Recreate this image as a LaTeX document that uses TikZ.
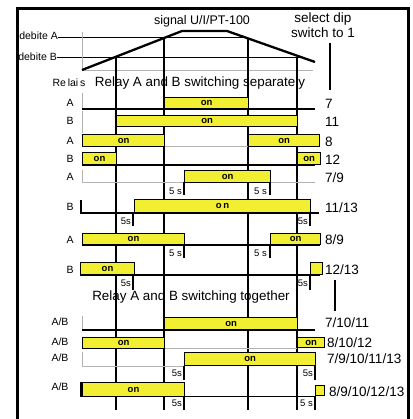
\documentclass[tikz,border=0pt]{standalone}
\usepackage{fontspec}
\setmainfont{Liberation Sans}
\usepackage{xcolor}
\usepackage{tikz}
\definecolor{relayyellow}{RGB}{242,238,50}

\begin{document}
\begin{tikzpicture}[x=1pt,y=-1pt,every node/.style={inner sep=0pt},
  bar/.style={draw,fill=relayyellow,line width=1.1pt,anchor=north west,font=\fontsize{9.5}{10}\selectfont\bfseries},
  base/.style={line width=2.3pt},
  offline/.style={black!30,line width=0.6pt},
  marker/.style={line width=1.3pt},
  tick/.style={line width=1.1pt},
  delay/.style={anchor=east,font=\fontsize{9.5}{10}\selectfont},
  rowlbl/.style={font=\fontsize{10.5}{11}\selectfont},
  code/.style={anchor=west,font=\fontsize{13.5}{14}\selectfont},
  head/.style={font=\fontsize{13.4}{15}\selectfont}]
  \useasboundingbox (0,0) rectangle (412,419);
  % frame
  \draw[line width=3pt] (17.5,419) -- (17.5,8.5) -- (408,8.5) -- (408,419);
  % signal
  \node[head,font=\fontsize{12.5}{13}\selectfont] (sig) at (202,21) {signal U/I/PT-100};
  \node[head,align=center,font=\fontsize{13.5}{15}\selectfont] (dip) at (323,25) {select dip\\switch to 1};
  \node[rowlbl,anchor=east] (debA) at (58,36) {debite A};
  \node[rowlbl,anchor=east] (debB) at (57,57) {debite B};
  \draw[line width=1pt] (debA.east |- 0,38) -- (248,38);
  \draw[line width=1pt] (debB.east |- 0,58) -- (300,58);
  \draw[offline] (82,32) -- (82,70) -- (313,70);
  \draw[line width=2.3pt] (82,70) -- (182,31) -- (227,31) -- (315,62);
  \foreach \x/\y in {116/58,164/38,248/38,297/58}
    \draw[marker] (\x,\y) -- (\x,410);
  \draw[marker] (330,43) -- (330,90);
  \draw[marker] (335,280) -- (335,311);

  % relays switching separately
  \node[rowlbl] (relais) at (69,83) {Re\,lai\,s};
  \node[head] (sep) at (200,83) {Relay A and B switching separately};

  \node[rowlbl] (a1) at (70,103) {A};
  \draw[offline] (82,93) -- (82,109);
  \draw[base] (82,109) -- (315,109);
  \node[bar,minimum width=84pt,minimum height=11pt] (a1on) at (164,97) {on};
  \node[code] (c7) at (325,104) {7};

  \node[rowlbl] (b1) at (70,121) {B};
  \draw[offline] (82,111) -- (82,133);
  \node[bar,minimum width=181pt,minimum height=11pt] (b1on) at (116,115) {on};
  \node[code] (c11) at (325,122) {11};

  \node[rowlbl] (a2) at (70,141) {A};
  \draw[offline] (164,146) -- (315,146);
  \node[bar,minimum width=82pt,minimum height=12pt] (a2on) at (82,134) {on};
  \node[bar,minimum width=71pt,minimum height=12pt] (a2on') at (248,134) {on};
  \node[code] (c8) at (325,142) {8};

  \node[rowlbl] (b2) at (70,159) {B};
  \draw[base] (82,165) -- (315,165);
  \node[bar,minimum width=34pt,minimum height=12pt] (b2on) at (82,152) {on};
  \node[bar,minimum width=23pt,minimum height=12pt] (b2on') at (297,152) {on};
  \node[code] (c12) at (325,160) {12};

  \node[rowlbl] (a3) at (70,177) {A};
  \draw[offline] (82,170) -- (82,182) -- (315,182);
  \node[bar,minimum width=86pt,minimum height=12pt] (a3on) at (184,170) {on};
  \draw[tick] (184,182) -- (184,195);
  \draw[tick] (270,182) -- (270,195);
  \node[delay] (a3d) at (182,191) {5 s};
  \node[delay] (a3d') at (267,191) {5 s};
  \node[code] (c79) at (325,178) {7/9};

  \node[rowlbl] (b3) at (70,207) {B};
  \draw[base] (81,200) -- (81,213) -- (319,213);
  \node[bar,minimum width=176pt,minimum height=13pt] (b3on) at (134,199) {o\,n};
  \draw[tick] (133,213) -- (133,226);
  \draw[tick] (310,213) -- (310,226);
  \node[delay] (b3d) at (131,221) {5s};
  \node[delay] (b3d') at (308,221) {5s};
  \node[code] (c1113) at (325,208) {11/13};

  \node[rowlbl] (a4) at (70,240) {A};
  \draw[base] (82,245) -- (320,245);
  \node[bar,minimum width=102pt,minimum height=11pt] (a4on) at (82,233) {on};
  \node[bar,minimum width=50pt,minimum height=11pt] (a4on') at (270,233) {on};
  \draw[tick] (184,245) -- (184,258);
  \draw[tick] (270,245) -- (270,258);
  \node[delay] (a4d) at (182,253) {5 s};
  \node[delay] (a4d') at (267,253) {5 s};
  \node[code] (c89) at (325,240) {8/9};

  \node[rowlbl] (b4) at (70,270) {B};
  \draw[base] (80,275) -- (320,275);
  \node[bar,minimum width=54pt,minimum height=12pt] (b4on) at (80,262) {on};
  \node[bar,minimum width=12pt,minimum height=12pt] (b4on') at (310,262) {};
  \draw[tick] (133,275) -- (133,290);
  \draw[tick] (310,275) -- (310,290);
  \node[delay] (b4d) at (131,283) {5s};
  \node[delay] (b4d') at (308,283) {5s};
  \node[code] (c1213) at (325,270) {12/13};

  % relays switching together
  \node[head] (tog) at (191,297) {Relay A and B switching together};

  \node[rowlbl] (ab1) at (60,322) {A/B};
  \draw[offline] (82,316) -- (82,330);
  \draw[base] (82,330) -- (315,330);
  \node[bar,minimum width=133pt,minimum height=12pt] (ab1on) at (164,317) {on};
  \node[code] (c71011) at (325,323) {7/10/11};

  \node[rowlbl] (ab2) at (60,342) {A/B};
  \draw[offline] (164,348) -- (297,348);
  \node[bar,minimum width=82pt,minimum height=11pt] (ab2on) at (82,337) {on};
  \node[bar,minimum width=27pt,minimum height=10pt] (ab2on') at (297,337) {on};
  \node[code] (c81012) at (327,343) {8/10/12};

  \node[rowlbl] (ab3) at (60,358) {A/B};
  \draw[offline] (82,352) -- (82,366) -- (184,366);
  \node[bar,minimum width=131pt,minimum height=13pt] (ab3on) at (184,352) {on};
  \draw[tick] (184,366) -- (184,380);
  \draw[tick] (315,366) -- (315,380);
  \node[delay] (ab3d) at (182,373) {5s};
  \node[delay] (ab3d') at (313,373) {5s};
  \node[code] (c79101113) at (327,359) {7/9/10/11/13};

  \node[rowlbl] (ab4) at (60,387) {A/B};
  \draw[base] (81,382) -- (81,397);
  \draw[line width=0.8pt] (184,396) -- (315,396);
  \node[bar,minimum width=102pt,minimum height=14pt] (ab4on) at (82,382) {on};
  \node[bar,minimum width=9pt,minimum height=10pt] (ab4on') at (315,385) {};
  \draw[tick] (184,396) -- (184,410);
  \draw[tick] (315,396) -- (315,410);
  \node[delay] (ab4d) at (182,403) {5s};
  \node[delay] (ab4d') at (313,403) {5 s};
  \node[code] (c89101213) at (329,392) {8/9/10/12/13};
\end{tikzpicture}
\end{document}
